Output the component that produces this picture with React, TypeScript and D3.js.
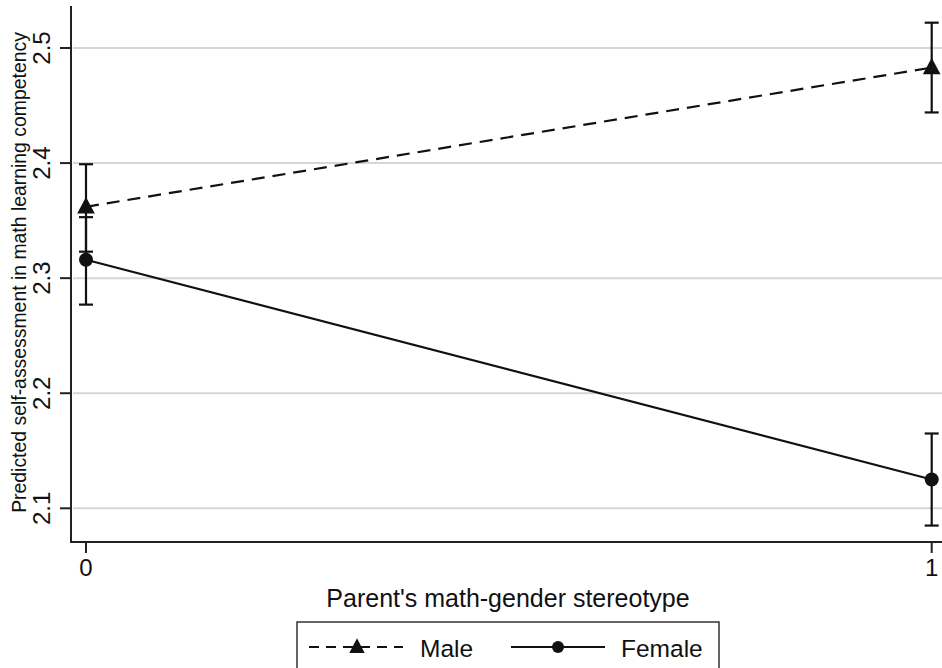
import React from "react";
import * as d3 from "d3";

const xCategories = [0, 1];
const xTickLabels = ["0", "1"];
const yTicks = [2.1, 2.2, 2.3, 2.4, 2.5];
const seriesNames = ["Male", "Female"];
const maleValues = [2.362, 2.483];
const maleLower = [2.323, 2.444];
const maleUpper = [2.399, 2.522];
const femaleValues = [2.316, 2.125];
const femaleLower = [2.277, 2.085];
const femaleUpper = [2.353, 2.165];
const xTitle = "Parent's math-gender stereotype";
const yTitle = "Predicted self-assessment in math learning competency";

const W = 942;
const H = 668;
const FONT = "'Liberation Sans', Arial, Helvetica, sans-serif";

export default function App() {
  const x = d3.scaleLinear().domain([0, 1]).range([86, 931.7]);
  const y = d3.scaleLinear().domain([2.1, 2.5]).range([508.3, 48]);
  const axisX = 71;
  const axisY = 542;
  const line = d3
    .line<number>()
    .x((_, i) => x(xCategories[i]))
    .y((d) => y(d));

  const series = [
    { name: seriesNames[0], v: maleValues, lo: maleLower, hi: maleUpper, dash: "13,8", marker: "tri" },
    { name: seriesNames[1], v: femaleValues, lo: femaleLower, hi: femaleUpper, dash: undefined, marker: "circ" },
  ];

  const tri = (cx: number, cy: number, s: number) =>
    `M${cx},${cy - s * 0.62} L${cx + s * 0.55},${cy + s * 0.42} L${cx - s * 0.55},${cy + s * 0.42} Z`;

  return (
    <svg
      width={W}
      height={H}
      style={{ position: "absolute", left: 0, top: 0, background: "#fff" }}
      fontFamily={FONT}
    >
      <rect x={0} y={0} width={W} height={H} fill="#fff" />
      {yTicks.map((t) => (
        <line key={"g" + t} x1={axisX + 2} x2={W} y1={y(t)} y2={y(t)} stroke="#d6d6d6" strokeWidth={2} />
      ))}
      <line x1={axisX} x2={axisX} y1={6} y2={axisY + 1} stroke="#222" strokeWidth={2} />
      <line x1={axisX - 1} x2={W} y1={axisY} y2={axisY} stroke="#222" strokeWidth={2} />
      {yTicks.map((t) => (
        <g key={"yt" + t}>
          <line x1={axisX - 11} x2={axisX} y1={y(t)} y2={y(t)} stroke="#222" strokeWidth={2} />
          <text
            transform={`translate(${axisX - 21},${y(t)}) rotate(-90)`}
            textAnchor="middle"
            fontSize={24}
            fill="#111"
          >
            {d3.format(".1f")(t)}
          </text>
        </g>
      ))}
      {xCategories.map((c, i) => (
        <g key={"xt" + c}>
          <line x1={x(c)} x2={x(c)} y1={axisY} y2={axisY + 11} stroke="#222" strokeWidth={2} />
          <text x={x(c)} y={axisY + 34} textAnchor="middle" fontSize={24} fill="#111">
            {xTickLabels[i]}
          </text>
        </g>
      ))}
      <text x={508} y={607} textAnchor="middle" fontSize={25} fill="#111">
        {xTitle}
      </text>
      <text transform={`translate(26,${272.5}) rotate(-90)`} textAnchor="middle" fontSize={19.4} fill="#111">
        {yTitle}
      </text>
      {series.map((s) => (
        <g key={s.name}>
          <path d={line(s.v) || ""} fill="none" stroke="#111" strokeWidth={2.2} strokeDasharray={s.dash} />
          {s.v.map((v, i) => {
            const cx = x(xCategories[i]);
            return (
              <g key={i}>
                <line x1={cx} x2={cx} y1={y(s.lo[i])} y2={y(s.hi[i])} stroke="#111" strokeWidth={2.2} />
                <line x1={cx - 7} x2={cx + 7} y1={y(s.lo[i])} y2={y(s.lo[i])} stroke="#111" strokeWidth={2.2} />
                <line x1={cx - 7} x2={cx + 7} y1={y(s.hi[i])} y2={y(s.hi[i])} stroke="#111" strokeWidth={2.2} />
                {s.marker === "tri" ? (
                  <path d={tri(cx, y(v), 16)} fill="#111" />
                ) : (
                  <circle cx={cx} cy={y(v)} r={7} fill="#111" />
                )}
              </g>
            );
          })}
        </g>
      ))}
      <rect x={297} y={622} width={422} height={60} fill="#fff" stroke="#333" strokeWidth={1.5} />
      <line x1={309} x2={403} y1={647} y2={647} stroke="#111" strokeWidth={2.2} strokeDasharray="10,7" />
      <path d={tri(357, 647, 14)} fill="#111" />
      <text x={420} y={657} fontSize={24.5} fill="#111">{seriesNames[0]}</text>
      <line x1={511} x2={605} y1={647} y2={647} stroke="#111" strokeWidth={2.2} />
      <circle cx={558} cy={647} r={6} fill="#111" />
      <text x={621} y={657} fontSize={24.5} fill="#111">{seriesNames[1]}</text>
    </svg>
  );
}
